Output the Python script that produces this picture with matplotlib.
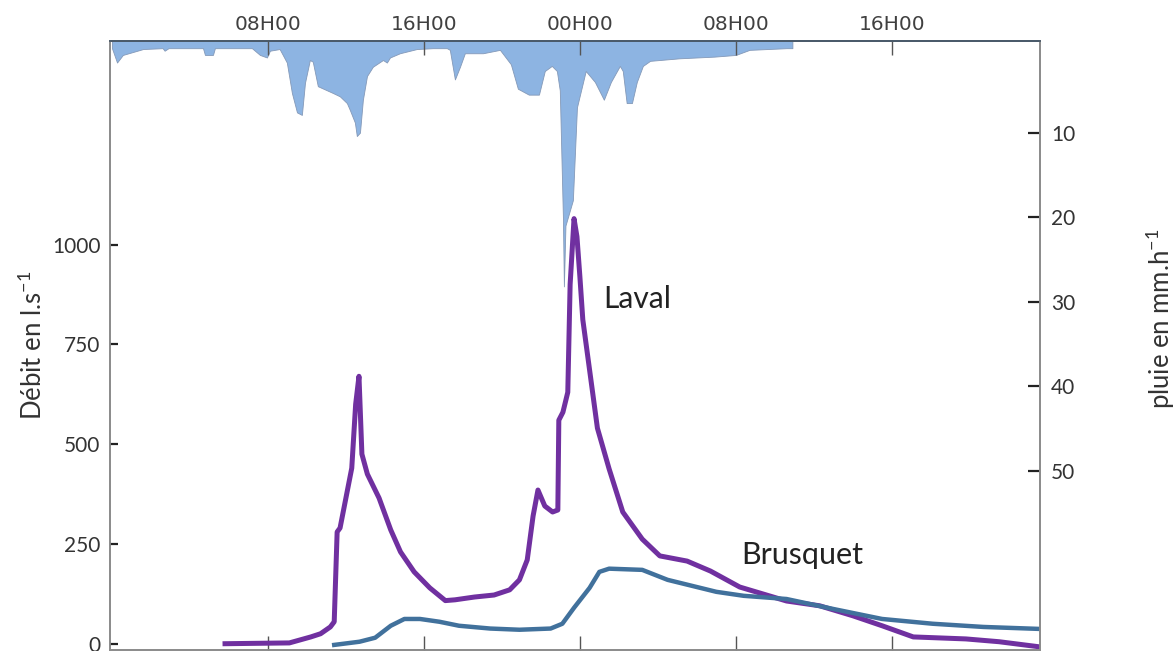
import matplotlib
matplotlib.use("Agg")
import matplotlib.pyplot as plt

plt.rcParams["font.family"] = ["Lato", "DejaVu Sans"]

# time in hours from 00H00 of day 1
laval_h = [5.8, 9.1, 10.2, 10.7, 11.2, 11.4, 11.55, 11.7, 12.3, 12.5, 12.67, 12.82,
           13.1, 13.7, 14.3, 14.8, 15.5, 16.3, 17.1, 17.6, 18.6, 19.6, 20.4, 20.9,
           21.3, 21.6, 21.85, 22.2, 22.6, 22.87, 22.92, 23.13, 23.38, 23.5, 23.7,
           23.85, 24.0, 24.15, 24.9, 25.5, 26.2, 27.2, 28.1, 29.5, 30.7, 32.2,
           34.6, 36.3, 38.0, 39.5, 41.1, 43.8, 45.5, 47.6]
laval_q = [0, 2, 17, 25, 42, 55, 280, 290, 440, 600, 670, 475,
           425, 365, 285, 230, 180, 140, 108, 110, 117, 122, 135, 160,
           210, 320, 385, 345, 330, 335, 560, 580, 630, 900, 1065,
           1020, 920, 812, 540, 438, 330, 262, 220, 207, 182, 142,
           107, 95, 70, 45, 17, 12, 5, -8]

brus_h = [11.4, 12.7, 13.5, 14.3, 15.0, 15.8, 16.8, 17.8, 19.4, 20.9, 22.5, 23.1,
          23.7, 24.5, 25.0, 25.5, 27.2, 28.5, 31.0, 32.4, 34.6, 37.0, 39.5, 42.1,
          44.7, 47.6]
brus_q = [-3, 5, 15, 45, 62, 62, 55, 45, 38, 35, 38, 50,
          90, 140, 180, 188, 185, 160, 130, 120, 112, 87, 62, 50,
          42, 37]

rain_h = [0.0, 0.26, 0.56, 1.6, 2.6, 2.7, 2.9, 4.67, 4.77, 5.18, 5.28, 7.18, 7.59,
          7.95, 8.1, 8.6, 8.97, 9.23, 9.49, 9.74, 9.9, 10.15, 10.3, 10.56, 11.33,
          11.69, 12.05, 12.2, 12.46, 12.56, 12.72, 12.87, 13.08, 13.38, 13.9, 14.1,
          14.26, 14.77, 15.64, 16.46, 17.18, 17.33, 17.59, 17.85, 18.1, 19.03, 19.9,
          20.46, 20.82, 21.38, 21.9, 22.2, 22.56, 22.82, 22.97, 23.13, 23.18, 23.26,
          23.64, 23.85, 24.3, 24.77, 25.23, 25.59, 26.05, 26.2, 26.4, 26.67, 26.92,
          27.23, 27.6, 29.1, 30.9, 32.0, 32.7, 34.6, 34.9]
rain_mm = [0, 1.7, 0.8, 0.1, 0, 0.3, 0, 0, 0.8, 0.8, 0, 0, 0.8,
           1.1, 0.3, 0.1, 1.7, 5.3, 7.6, 7.9, 4.1, 1.4, 1.6, 4.5, 5.3,
           5.7, 6.5, 7.3, 8.8, 10.4, 10.0, 6.1, 3.3, 2.2, 1.4, 1.7,
           1.1, 0.6, 0.1, 0, 0, 0.2, 3.7, 2.2, 0.6, 0.6, 0.2,
           1.9, 4.8, 5.5, 5.5, 2.7, 2.1, 2.7, 5.0, 20.0, 28.2, 21.0,
           18.0, 7.0, 2.7, 4.0, 6.1, 4.0, 2.1, 2.7, 6.5, 6.5, 4.0,
           2.1, 1.5, 1.2, 1.0, 0.8, 0.2, 0, 0]

time_ticks = [8, 16, 24, 32, 40]
time_labels = ["08H00", "16H00", "00H00", "08H00", "16H00"]
q_ticks = [0, 250, 500, 750, 1000]
rain_ticks = [10, 20, 30, 40, 50]

INK = "#333333"
fig = plt.figure(figsize=(11.76, 6.51), dpi=100)
ax = fig.add_axes([110 / 1176, 0.002, 930 / 1176, 1 - 41 / 651 - 0.002])
ax2 = ax.twinx()
ax.set_zorder(ax2.get_zorder() + 1)
ax.patch.set_visible(False)

ax2.fill_between(rain_h, -0.85, rain_mm, facecolor="#8DB4E2", edgecolor="#8499b8",
                 linewidth=0.6)
ax2.set_ylim(71.2, -0.85)
ax2.set_yticks(rain_ticks)
ax2.tick_params(axis="y", direction="in", length=9, width=1.6, color="#222222",
                labelsize=15, labelcolor=INK, pad=8)
ax2.set_ylabel("pluie en mm.h$^{\\mathregular{-1}}$", fontsize=18.5, color=INK)
ax2.yaxis.set_label_coords(1.111, 0.544)

ax.plot(laval_h, laval_q, color="#7030A0", lw=3.6, solid_joinstyle="round")
ax.plot(brus_h, brus_q, color="#41719C", lw=3.2, solid_joinstyle="round")
ax.set_xlim(-0.1, 47.6)
ax.set_ylim(-15, 1510)
ax.set_yticks(q_ticks)
ax.tick_params(axis="y", direction="in", length=6, width=1.6, color="#222222",
               labelsize=15, labelcolor=INK, pad=7)
ax.set_xticks(time_ticks)
ax.set_xticklabels(time_labels, fontsize=14.5, color="#404040", family="DejaVu Sans")
ax.tick_params(axis="x", top=True, bottom=True, labeltop=True, labelbottom=False,
               direction="in", length=10, width=1.0, color="#555555", pad=5)
ax.set_ylabel("Débit en l.s$^{\\mathregular{-1}}$", fontsize=18.5, color=INK)
ax.yaxis.set_label_coords(-0.068, 0.50)

for a in (ax, ax2):
    for side in ("left", "right", "bottom"):
        a.spines[side].set_color("#8c8c8c")
        a.spines[side].set_linewidth(1.3)
    a.spines["top"].set_color("#4a5a6a")
    a.spines["top"].set_linewidth(1.3)

ax.text(25.2, 840, "Laval", fontsize=21.5, color="#222222", ha="left", va="baseline")
ax.text(32.3, 200, "Brusquet", fontsize=22, color="#222222", ha="left", va="baseline")

fig.savefig("out.png", dpi=100, facecolor="white")
